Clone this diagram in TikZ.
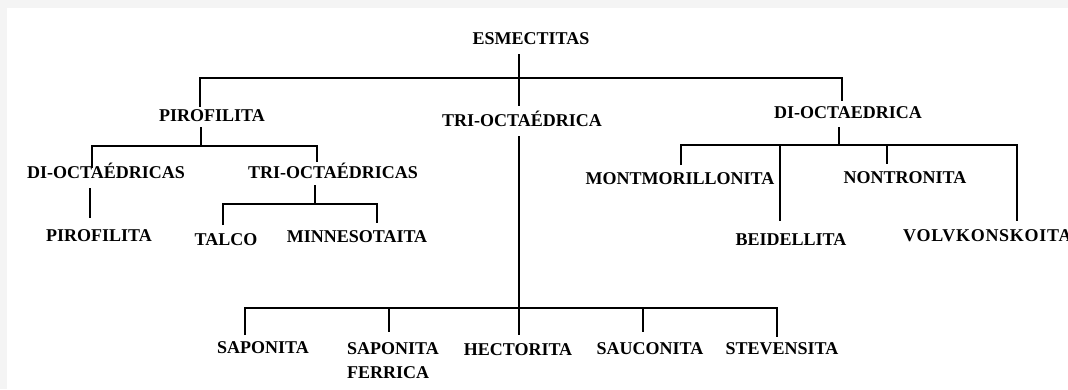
\documentclass[tikz,border=0pt]{standalone}
\usepackage{fontspec}
\setmainfont{Liberation Serif}
\begin{document}
\begin{tikzpicture}[x=1pt,y=-1pt,
  lbl/.style={font=\bfseries\fontsize{18}{24}\selectfont, inner sep=0pt, text height=11.9pt, text depth=0pt},
  edge/.style={line width=2pt, draw=black}]
\clip (0,0) rectangle (1068,389);
\fill[gray!9] (0,0) rectangle (1068,389);
\fill[white] (7,8) rectangle (1068,389);
% nodes
\node[lbl] (esm) at (531,39) {ESMECTITAS};
\node[lbl] (piro) at (212,116) {PIROFILITA};
\node[lbl] (trioct) at (522,121) {TRI-OCTAÉDRICA};
\node[lbl] (dioct) at (848,113) {DI-OCTAEDRICA};
\node[lbl] (dioctas) at (106,173) {DI-OCTAÉDRICAS};
\node[lbl] (trioctas) at (333,173) {TRI-OCTAÉDRICAS};
\node[lbl] (mont) at (680,179) {MONTMORILLONITA};
\node[lbl] (nont) at (905,178) {NONTRONITA};
\node[lbl] (piro2) at (99,236) {PIROFILITA};
\node[lbl] (talco) at (226,240) {TALCO};
\node[lbl] (minn) at (357,237) {MINNESOTAITA};
\node[lbl] (beid) at (791,240) {BEIDELLITA};
\node[lbl, anchor=west] (volv) at (903,236) {\addfontfeature{LetterSpace=4}VOLVKONSKOITA};
\node[lbl] (sap) at (263,348) {SAPONITA};
\node[lbl, align=left, anchor=base west, text height=, text depth=] (sapf) at (347,378) {SAPONITA\\FERRICA};
\node[lbl] (hect) at (518,350) {HECTORITA};
\node[lbl] (sauc) at (650,349) {SAUCONITA};
\node[lbl] (stev) at (782,349) {STEVENSITA};
% junction coordinates
\coordinate (e0) at (519,54);
\coordinate (e1) at (519,106);
\coordinate (mL) at (200,78);
\coordinate (mR) at (842,78);
\coordinate (pL) at (200,107);
\coordinate (dR) at (842,101);
\coordinate (t0) at (519,136);
\coordinate (t1) at (519,335);
\coordinate (bL) at (245,308);
\coordinate (bR) at (777,308);
\coordinate (sap0) at (245,335);
\coordinate (sapf1) at (389,308);
\coordinate (sapf0) at (389,332);
\coordinate (sauc1) at (643,308);
\coordinate (sauc0) at (643,332);
\coordinate (stev0) at (777,337);
\coordinate (p0) at (201,127);
\coordinate (p1) at (201,146);
\coordinate (pjL) at (92,146);
\coordinate (pjR) at (317,146);
\coordinate (dio0) at (92,168);
\coordinate (tri0) at (317,162);
\coordinate (dd0) at (90,188);
\coordinate (dd1) at (90,218);
\coordinate (tt0) at (315,185);
\coordinate (tt1) at (315,204);
\coordinate (tjL) at (223,204);
\coordinate (tjR) at (377,204);
\coordinate (talc0) at (223,225);
\coordinate (minn0) at (377,223);
\coordinate (d0) at (839,127);
\coordinate (d1) at (839,145);
\coordinate (djL) at (681,145);
\coordinate (djR) at (1017,145);
\coordinate (mont0) at (681,165);
\coordinate (beid1) at (780,145);
\coordinate (beid0) at (780,221);
\coordinate (nont1) at (887,145);
\coordinate (nont0) at (887,164);
\coordinate (volv0) at (1017,221);
% connectors
\draw[edge] (e0) -- (e1);
\draw[edge] (pL) -- (mL) -- (mR) -- (dR);
\draw[edge] (t0) -- (t1);
\draw[edge] (sap0) -- (bL) -- (bR) -- (stev0);
\draw[edge] (sapf1) -- (sapf0);
\draw[edge] (sauc1) -- (sauc0);
\draw[edge] (p0) -- (p1);
\draw[edge] (dio0) -- (pjL) -- (pjR) -- (tri0);
\draw[edge] (dd0) -- (dd1);
\draw[edge] (tt0) -- (tt1);
\draw[edge] (talc0) -- (tjL) -- (tjR) -- (minn0);
\draw[edge] (d0) -- (d1);
\draw[edge] (mont0) -- (djL) -- (djR) -- (volv0);
\draw[edge] (beid1) -- (beid0);
\draw[edge] (nont1) -- (nont0);
\end{tikzpicture}
\end{document}
